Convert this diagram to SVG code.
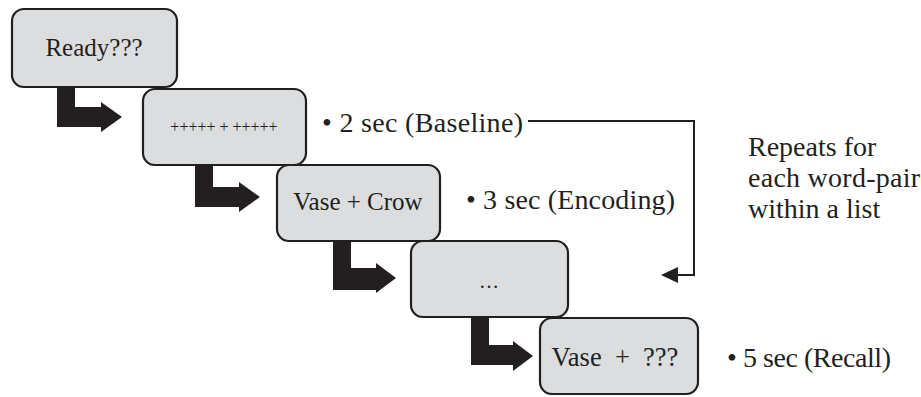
<svg xmlns="http://www.w3.org/2000/svg" width="921" height="397" viewBox="0 0 921 397">
<style>
.box{fill:#dcdddf;stroke:#231f20;stroke-width:2.2}
.t{font-family:"Liberation Serif","Times New Roman",serif;fill:#231f20}
.big{font-size:28px}
.arr{fill:#231f20}
.conn{fill:none;stroke:#231f20;stroke-width:2}
</style>
<rect width="921" height="397" fill="#ffffff"/>
<g id="connectors">
<path class="arr" d="M57,86 H75 V107 H101 V102 L122,117 L101,132 V127 H57 Z"/>
<path class="arr" d="M195,164 H213 V187 H239 V182 L260,197 L239,212 V207 H195 Z"/>
<path class="arr" d="M333,240 H351 V268 H376 V263 L396,278 L376,293 V290 H333 Z"/>
<path class="arr" d="M471,316 H489 V345 H513 V341 L533,356 L513,371 V365 H471 Z"/>
<path class="conn" d="M528,121 H694 V275 H677"/>
<path class="arr" d="M661,275 L678,267 L678,283 Z"/>
</g>
<g id="n1"><rect class="box" x="12" y="9" width="165" height="78" rx="12"/>
<text class="t" x="94" y="56" font-size="25" text-anchor="middle">Ready???</text></g>
<g id="n2"><rect class="box" x="143" y="89" width="163" height="76" rx="12"/>
<text class="t" x="224" y="132" font-size="16" text-anchor="middle">+++++ + +++++</text></g>
<g id="n3"><rect class="box" x="277" y="165" width="163" height="76" rx="12"/>
<text class="t" x="358" y="210" font-size="25" text-anchor="middle">Vase + Crow</text></g>
<g id="n4"><rect class="box" x="411" y="241" width="157" height="76" rx="12"/>
<text class="t" x="489" y="288" font-size="20" text-anchor="middle">…</text></g>
<g id="n5"><rect class="box" x="540" y="318" width="158" height="76" rx="12"/>
<text class="t" x="615" y="366" font-size="26.5" text-anchor="middle" xml:space="preserve">Vase  +  ???</text></g>
<g id="labels">
<text class="t big" x="322" y="132" textLength="201">• 2 sec (Baseline)</text>
<text class="t big" x="466" y="209" textLength="209">• 3 sec (Encoding)</text>
<text class="t big" x="727" y="367" textLength="164">• 5 sec (Recall)</text>
<text class="t big" x="748" y="156">Repeats for</text>
<text class="t big" x="748" y="187" textLength="172">each word-pair</text>
<text class="t big" x="748" y="218">within a list</text>
</g>
</svg>
